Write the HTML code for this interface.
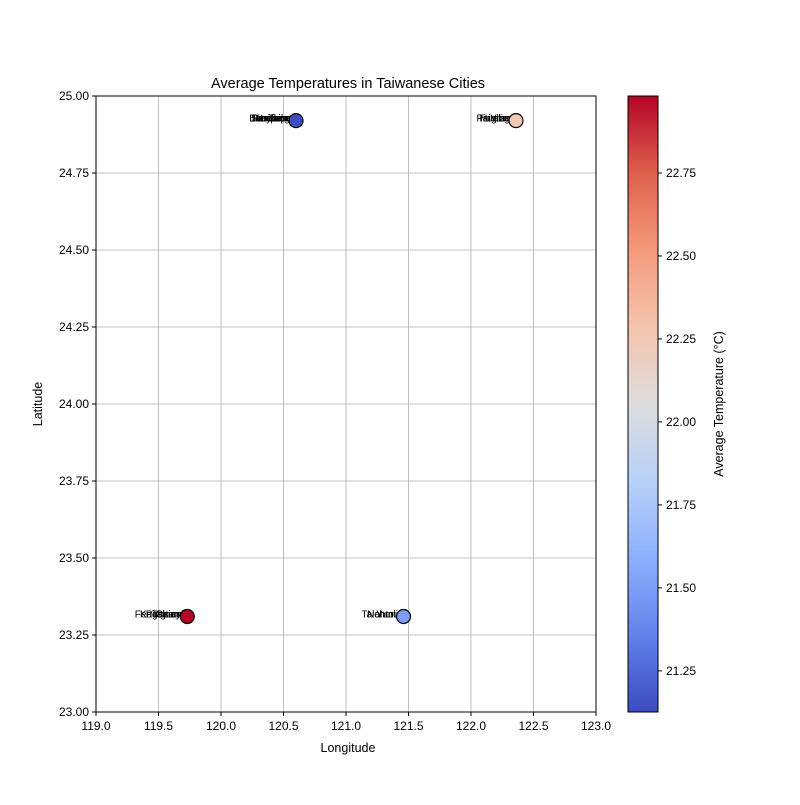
<!DOCTYPE html>
<html><head><meta charset="utf-8"><style>
body{margin:0;background:#fff}
svg text{font-family:"Liberation Sans","DejaVu Sans",sans-serif}
</style></head><body>
<svg id="chart" width="800" height="800" xmlns="http://www.w3.org/2000/svg">
<defs><linearGradient id="cw" x1="0" y1="1" x2="0" y2="0">
<stop offset="0" stop-color="rgb(59,76,192)"/><stop offset="0.125" stop-color="rgb(98,130,234)"/>
<stop offset="0.25" stop-color="rgb(141,176,254)"/><stop offset="0.375" stop-color="rgb(184,208,249)"/>
<stop offset="0.5" stop-color="rgb(221,221,221)"/><stop offset="0.625" stop-color="rgb(245,196,173)"/>
<stop offset="0.75" stop-color="rgb(244,154,123)"/><stop offset="0.875" stop-color="rgb(222,96,77)"/>
<stop offset="1" stop-color="rgb(180,4,38)"/></linearGradient></defs>
<g id="g"></g>
</svg>
<script>
const lons=[120.6,122.36,119.73,121.46];
const lats=[24.92,24.92,23.31,23.31];
const temps=[21.13,22.25,22.98,21.5];
const names=[["Sanchong","Taipei","Hsinchu","Keelung","Taoyuan","Banqiao"],["Pingtung","Hualien","Yilan","Taitung"],["Kaohsiung","Pingtung","Chiayi","Tainan","Fengshan"],["Yunlin","Taichung","Nantou"]];
const xTicks=[119,119.5,120,120.5,121,121.5,122,122.5,123];
const yTicks=[23,23.25,23.5,23.75,24,24.25,24.5,24.75,25];
const cTicks=[21.25,21.5,21.75,22,22.25,22.5,22.75];
const L=96,R=596,T=96,B=712,cmin=21.126,cmax=22.982;
const xs=v=>L+(v-119)/4*(R-L), ys=v=>B-(v-23)/2*(B-T), cs=v=>B-(v-cmin)/(cmax-cmin)*(B-T);
const stops=[[59,76,192],[98,130,234],[141,176,254],[184,208,249],[221,221,221],[245,196,173],[244,154,123],[222,96,77],[180,4,38]];
function cmap(v){let t=Math.max(0,Math.min(1,(v-cmin)/(cmax-cmin)))*8,i=Math.min(7,Math.floor(t)),f=t-i;
return 'rgb('+stops[i].map((c,k)=>Math.round(c+(stops[i+1][k]-c)*f)).join(',')+')';}
const g=document.getElementById('g');const NS='http://www.w3.org/2000/svg';
function el(tag,a,txt){const e=document.createElementNS(NS,tag);for(const k in a)e.setAttribute(k,a[k]);if(txt!==undefined)e.textContent=txt;g.appendChild(e);return e;}
let e;
xTicks.forEach(v=>{const x=xs(v);
e=el('line',{x1:x,x2:x,y1:T,y2:B,stroke:'#b0b0b0','stroke-width':0.8});
e=el('line',{x1:x,x2:x,y1:B,y2:B+4,stroke:'#000'});
e=el('text',{x:x,y:B+18,'font-size':12,'text-anchor':'middle'},v.toFixed(1));});
yTicks.forEach(v=>{const y=ys(v);
e=el('line',{x1:L,x2:R,y1:y,y2:y,stroke:'#b0b0b0','stroke-width':0.8});
e=el('line',{x1:L-4,x2:L,y1:y,y2:y,stroke:'#000'});
e=el('text',{x:L-7,y:y+4,'font-size':12,'text-anchor':'end'},v.toFixed(2));});
lons.forEach((v,i)=>{const x=xs(v),y=ys(lats[i]);
names[i].forEach((n,j)=>{e=el('text',{x:x-j*2,y:y+1,'font-size':10,'text-anchor':'end'},n);});
e=el('circle',{cx:x,cy:y,r:7,fill:cmap(temps[i]),stroke:'#000','stroke-width':1.2});});
e=el('rect',{x:L,y:T,width:R-L,height:B-T,fill:'none',stroke:'#000','stroke-width':1});
e=el('text',{x:348,y:88,'font-size':14.5,'text-anchor':'middle'},'Average Temperatures in Taiwanese Cities');
e=el('text',{x:348,y:752,'font-size':12.5,'text-anchor':'middle'},'Longitude');
e=el('text',{x:42,y:404,'font-size':12.5,'text-anchor':'middle',transform:'rotate(-90 42 404)'},'Latitude');
e=el('rect',{x:628,y:T,width:30,height:B-T,fill:'url(#cw)',stroke:'#000','stroke-width':1});
cTicks.forEach(v=>{const y=cs(v);
e=el('line',{x1:658,x2:662,y1:y,y2:y,stroke:'#000'});
e=el('text',{x:666,y:y+4,'font-size':12},v.toFixed(2));});
e=el('text',{x:723,y:404,'font-size':12.5,'text-anchor':'middle',transform:'rotate(-90 723 404)'},'Average Temperature (°C)');
</script>
</body></html>
